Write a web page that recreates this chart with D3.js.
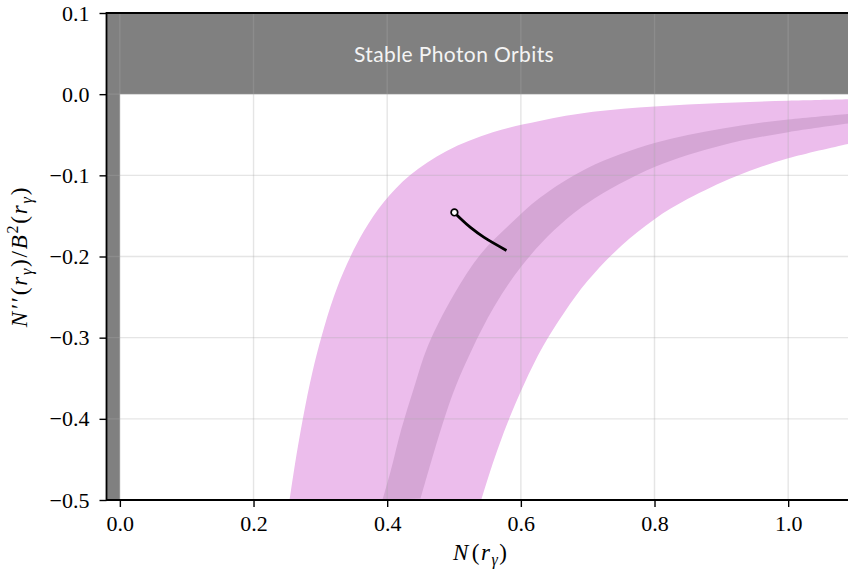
<!DOCTYPE html>
<html>
<head>
<meta charset="utf-8">
<script src="https://cdn.jsdelivr.net/npm/d3@7"></script>
<style>
  html, body { margin: 0; padding: 0; background: #fff; }
  svg { display: block; }
</style>
</head>
<body>
<svg id="chart" width="848" height="569"></svg>
<script>
// Axis extents and ticks
const xDomain = [-0.02, 1.1];
const yDomain = [-0.5, 0.1];
const xTicks = [0.0, 0.2, 0.4, 0.6, 0.8, 1.0];
const yTicks = [-0.5, -0.4, -0.3, -0.2, -0.1, 0.0, 0.1];

// Edges of the wide (light) band, as [N, N''/B^2]
const outerUpper = [
  [0.254, -0.500], [0.262, -0.456], [0.274, -0.399], [0.288, -0.343],
  [0.302, -0.298], [0.320, -0.250], [0.340, -0.209], [0.365, -0.169],
  [0.395, -0.133], [0.434, -0.100], [0.489, -0.070], [0.558, -0.047],
  [0.628, -0.033], [0.708, -0.0218], [0.800, -0.0152], [0.900, -0.0108],
  [1.000, -0.0082], [1.100, -0.0062]
];
const outerLower = [
  [0.540, -0.502], [0.560, -0.450], [0.580, -0.405], [0.605, -0.357],
  [0.633, -0.311], [0.665, -0.269], [0.700, -0.230], [0.750, -0.187],
  [0.800, -0.154], [0.850, -0.129], [0.922, -0.101], [1.000, -0.079],
  [1.100, -0.0594]
];

// Edges of the narrow (darker) band
const innerUpper = [
  [0.393, -0.500], [0.405, -0.465], [0.421, -0.413], [0.440, -0.362],
  [0.461, -0.310], [0.499, -0.248], [0.540, -0.197], [0.583, -0.161],
  [0.628, -0.128], [0.700, -0.091], [0.800, -0.0602], [0.900, -0.0425],
  [1.000, -0.0312], [1.100, -0.0236]
];
const innerLower = [
  [0.450, -0.498], [0.465, -0.455], [0.483, -0.406], [0.503, -0.359],
  [0.526, -0.316], [0.560, -0.262], [0.600, -0.213], [0.650, -0.1675],
  [0.700, -0.134], [0.800, -0.0898], [0.900, -0.0631], [1.000, -0.0468],
  [1.100, -0.0350]
];

// Black track with an open marker at its start
const track = [
  [0.5006, -0.1457], [0.5100, -0.1535], [0.5250, -0.1645],
  [0.5450, -0.1765], [0.5785, -0.1925]
];

// Pick the first installed serif face from a list
function pickFont(candidates, fallback) {
  const ctx = document.createElement("canvas").getContext("2d");
  const sample = "mmmmmmmmmmlli0.123456789";
  const widthOf = f => { ctx.font = "40px " + f; return ctx.measureText(sample).width; };
  const wMono = widthOf("monospace");
  for (const c of candidates) {
    const a = widthOf(`"${c}", monospace`), b = widthOf(`"${c}", sans-serif`);
    if (Math.abs(a - b) < 0.01 && Math.abs(a - wMono) > 0.01) return `"${c}"`;
  }
  return fallback;
}
const serif = pickFont(["Liberation Serif", "Times New Roman", "Tinos", "DejaVu Serif", "Noto Serif"], "serif");

const svg = d3.select("#chart");
const margin = { left: 106.5, top: 13, bottom: 69 };
const H = 569;
const x = d3.scaleLinear().domain(xDomain).range([margin.left, 855]);
const y = d3.scaleLinear().domain(yDomain).range([H - margin.bottom, margin.top]);

svg.append("defs").append("clipPath").attr("id", "plotclip")
  .append("rect")
  .attr("x", x(xDomain[0])).attr("y", y(yDomain[1]))
  .attr("width", x(xDomain[1]) - x(xDomain[0]))
  .attr("height", y(yDomain[0]) - y(yDomain[1]));

const plot = svg.append("g").attr("clip-path", "url(#plotclip)");

// Excluded regions: N''/B^2 > 0 and N < 0
const grey = "#808080";
plot.append("rect")
  .attr("x", x(xDomain[0])).attr("y", y(yDomain[1]))
  .attr("width", x(xDomain[1]) - x(xDomain[0]))
  .attr("height", y(0) - y(yDomain[1]))
  .attr("fill", grey);
plot.append("rect")
  .attr("x", x(xDomain[0])).attr("y", y(yDomain[1]))
  .attr("width", x(0) - x(xDomain[0]))
  .attr("height", y(yDomain[0]) - y(yDomain[1]))
  .attr("fill", grey);

// Band between two edges, closed along the bottom of the frame
const edge = d3.line().x(d => x(d[0])).y(d => y(d[1])).curve(d3.curveCatmullRom.alpha(0.5));
function bandPath(upper, lower) {
  const a = edge(upper);
  const b = edge(lower.slice().reverse());
  return a + "L" + b.slice(1) + "Z";
}
plot.append("path").attr("d", bandPath(outerUpper, outerLower)).attr("fill", "#ecbdec");
plot.append("path").attr("d", bandPath(innerUpper, innerLower)).attr("fill", "#d5a6d5");

// Grid over the fills
const grid = plot.append("g").attr("stroke", "#a9a9a9").attr("stroke-opacity", 0.3).attr("stroke-width", 1.4);
grid.selectAll("line.gx").data(xTicks).join("line")
  .attr("x1", d => x(d)).attr("x2", d => x(d))
  .attr("y1", y(yDomain[0])).attr("y2", y(yDomain[1]));
grid.selectAll("line.gy").data(yTicks).join("line")
  .attr("x1", x(xDomain[0])).attr("x2", x(xDomain[1]))
  .attr("y1", d => y(d)).attr("y2", d => y(d));

// Region label
plot.append("text")
  .attr("x", x(0.5)).attr("y", y(0.05))
  .attr("text-anchor", "middle").attr("dominant-baseline", "central")
  .attr("font-family", "Lato, 'Open Sans', sans-serif").attr("font-size", 21)
  .attr("letter-spacing", 0.4)
  .attr("fill", "#f4f4f4")
  .text("Stable Photon Orbits");

// Track and its start marker
plot.append("path")
  .attr("d", d3.line().x(d => x(d[0])).y(d => y(d[1])).curve(d3.curveCatmullRom)(track))
  .attr("fill", "none").attr("stroke", "#000").attr("stroke-width", 2.8);
plot.append("circle")
  .attr("cx", x(track[0][0])).attr("cy", y(track[0][1])).attr("r", 3.3)
  .attr("fill", "#fff").attr("stroke", "#000").attr("stroke-width", 1.7);

// Axes
const fmt = d => (d < 0 ? "\u2212" : "") + Math.abs(d).toFixed(1);
const xAxis = d3.axisBottom(x).tickValues(xTicks).tickFormat(fmt).tickSize(7).tickPadding(8);
const yAxis = d3.axisLeft(y).tickValues(yTicks).tickFormat(fmt).tickSize(7).tickPadding(10);

const gx = svg.append("g").attr("transform", `translate(0,${y(yDomain[0])})`).call(xAxis);
const gy = svg.append("g").attr("transform", `translate(${x(xDomain[0])},0)`).call(yAxis);
[gx, gy].forEach(g => {
  g.attr("font-family", serif).attr("font-size", 22);
  g.select(".domain").remove();
  g.selectAll(".tick line").attr("stroke", "#000").attr("stroke-width", 1.4);
  g.selectAll(".tick text").style("font-family", serif).attr("font-size", 22).attr("fill", "#000");
});

// Spines
const spines = svg.append("g").attr("stroke", "#000").attr("stroke-width", 1.8);
spines.append("line").attr("x1", x(xDomain[0])).attr("x2", x(xDomain[0])).attr("y1", y(yDomain[0]) + 0.9).attr("y2", y(yDomain[1]) - 0.9);
spines.append("line").attr("x1", x(xDomain[0])).attr("x2", x(xDomain[1])).attr("y1", y(yDomain[0])).attr("y2", y(yDomain[0]));
spines.append("line").attr("x1", x(xDomain[0])).attr("x2", x(xDomain[1])).attr("y1", y(yDomain[1])).attr("y2", y(yDomain[1]));

// Axis titles
const xl = svg.append("text")
  .attr("x", (x(xDomain[0]) + x(xDomain[1])) / 2).attr("y", 560)
  .attr("text-anchor", "middle").style("font-family", serif).attr("font-size", 23)
  .attr("letter-spacing", 1.5);
xl.append("tspan").attr("font-style", "italic").text("N");
xl.append("tspan").attr("dx", 2).text("(");
xl.append("tspan").attr("font-style", "italic").text("r");
xl.append("tspan").attr("font-style", "italic").attr("font-size", 16).attr("dy", 5).text("γ");
xl.append("tspan").attr("dy", -5).text(")");

const yl = svg.append("text")
  .attr("transform", `translate(27,${(y(yDomain[0]) + y(yDomain[1])) / 2}) rotate(-90)`)
  .attr("text-anchor", "middle").style("font-family", serif).attr("font-size", 23)
  .attr("letter-spacing", 1.8);
yl.append("tspan").attr("font-style", "italic").text("N");
yl.append("tspan").attr("dx", 1).text("\u2032\u2032(");
yl.append("tspan").attr("font-style", "italic").text("r");
yl.append("tspan").attr("font-style", "italic").attr("font-size", 16).attr("dy", 5).text("γ");
yl.append("tspan").attr("dy", -5).text(")/");
yl.append("tspan").attr("font-style", "italic").text("B");
yl.append("tspan").attr("font-size", 16).attr("dy", -9).text("2");
yl.append("tspan").attr("dy", 9).text("(");
yl.append("tspan").attr("font-style", "italic").text("r");
yl.append("tspan").attr("font-style", "italic").attr("font-size", 16).attr("dy", 5).text("γ");
yl.append("tspan").attr("dy", -5).text(")");
</script>
</body>
</html>
